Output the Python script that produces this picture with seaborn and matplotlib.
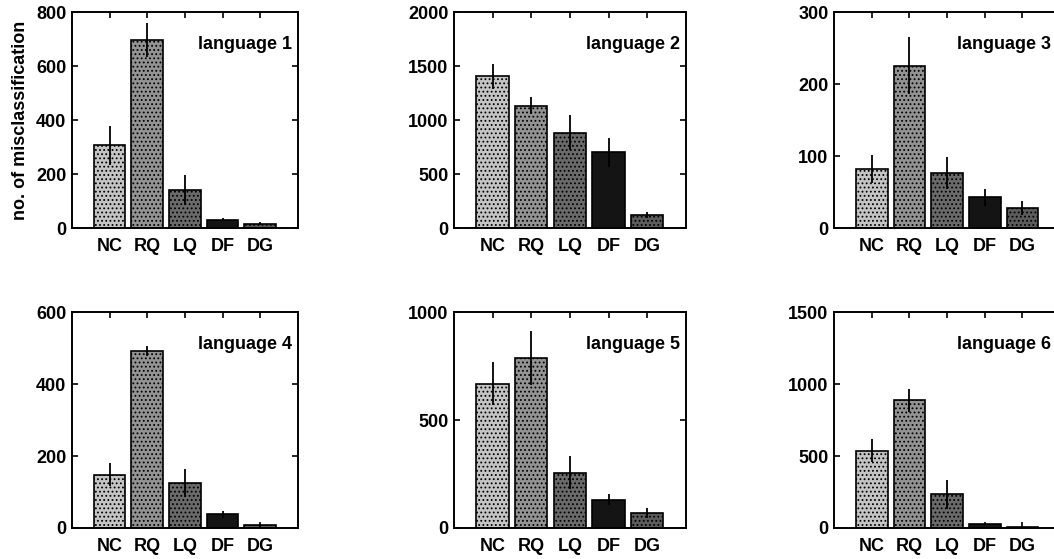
import numpy as np
import pandas as pd
import matplotlib
matplotlib.use("Agg")
import matplotlib.pyplot as plt
import seaborn as sns

methods = ["NC", "RQ", "LQ", "DF", "DG"]
languages = ["language 1", "language 2", "language 3",
             "language 4", "language 5", "language 6"]

# mean number of misclassifications and error bar half-lengths
lang1_mean = [307, 697, 141, 31, 15]
lang1_err = [72, 62, 56, 5, 3]
lang2_mean = [1407, 1133, 883, 702, 119]
lang2_err = [115, 78, 162, 134, 30]
lang3_mean = [82, 226, 77, 43, 28]
lang3_err = [20, 40, 22, 12, 10]
lang4_mean = [148, 491, 125, 38, 7]
lang4_err = [32, 14, 39, 9, 3]
lang5_mean = [668, 787, 256, 131, 71]
lang5_err = [100, 125, 77, 25, 23]
lang6_mean = [537, 887, 233, 25, 9]
lang6_err = [80, 81, 101, 5, 3]

y_max = [800, 2000, 300, 600, 1000, 1500]
y_step = [200, 500, 100, 200, 500, 500]

means = [lang1_mean, lang2_mean, lang3_mean, lang4_mean, lang5_mean, lang6_mean]
errs = [lang1_err, lang2_err, lang3_err, lang4_err, lang5_err, lang6_err]

bar_grays = ["#c4c4c4", "#939393", "#6a6a6a", "#141414", "#5c5c5c"]
bar_hatch = ["....", "....", "....", "", "...."]

sns.set_style("ticks")
plt.rcParams['font.family'] = ['Liberation Sans', 'DejaVu Sans']
plt.rcParams['font.weight'] = 'bold'
plt.rcParams['hatch.linewidth'] = 0.8
plt.rcParams['text.color'] = 'black'
plt.rcParams['axes.labelcolor'] = 'black'
plt.rcParams['xtick.color'] = 'black'
plt.rcParams['ytick.color'] = 'black'
plt.rcParams['axes.edgecolor'] = 'black'

fig = plt.figure(figsize=(10.54, 5.59), dpi=100)

# the third column runs off the right edge, as in the original scan
lefts = [0.0683, 0.4307, 0.7913]
widths = [0.2144, 0.220, 0.2144]
label_x = [0.975, 0.975, 0.962]
bottoms = [0.592, 0.0555]
height = 0.386

for i in range(6):
    row, col = divmod(i, 3)
    ax = fig.add_axes([lefts[col], bottoms[row], widths[col], height])
    df = pd.DataFrame({"method": methods, "count": means[i], "err": errs[i]})
    sns.barplot(data=df, x="method", y="count", hue="method",
                palette=bar_grays, legend=False, width=0.84,
                saturation=1, edgecolor="black", linewidth=1.2, ax=ax)
    for p, h in zip(ax.patches, bar_hatch):
        p.set_hatch(h)
    xs = [p.get_x() + p.get_width() / 2 for p in ax.patches]
    ax.errorbar(xs, df["count"], yerr=df["err"], fmt="none",
                ecolor="black", elinewidth=1.3, capsize=0, zorder=5)

    ax.set_xlim(-1, 5)
    ax.set_ylim(0, y_max[i])
    ax.set_yticks(np.arange(0, y_max[i] + 1, y_step[i]))
    ax.tick_params(direction="in", top=True, right=True, length=4,
                   width=1.2, labelsize=13, pad=4)
    ax.tick_params(axis="x", pad=7)
    for lab in ax.get_xticklabels() + ax.get_yticklabels():
        lab.set_fontweight("bold")
    for s in ax.spines.values():
        s.set_linewidth(1.4)
        s.set_visible(True)
    ax.set_xlabel("")
    if i == 0:
        ax.set_ylabel("no. of misclassification", fontsize=13,
                      fontweight="bold", labelpad=5)
    else:
        ax.set_ylabel("")
    ax.text(label_x[col], 0.85, languages[i], transform=ax.transAxes,
            ha="right", va="center", fontsize=13, fontweight="bold")

fig.savefig("out.png", dpi=100)
